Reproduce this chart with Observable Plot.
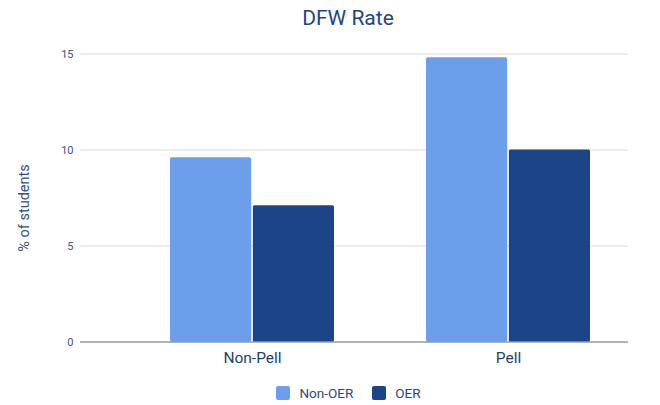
<!DOCTYPE html>
<html>
<head>
<meta charset="utf-8">
<script src="https://cdn.jsdelivr.net/npm/d3@7"></script>
<script src="https://cdn.jsdelivr.net/npm/@observablehq/plot@0.6"></script>
<style>
  html, body { margin: 0; padding: 0; background: #fff; }
  body { width: 660px; height: 405px; overflow: hidden; font-family: Roboto, "Noto Sans", sans-serif; }
  #title { height: 40px; text-align: center; font-size: 21px; color: #1c4587; line-height: 36px; padding-left: 36px; box-sizing: border-box; }
  #chart svg { display: block; }
  #legend { height: 30px; display: flex; justify-content: center; align-items: center; gap: 19px; font-size: 13.5px; color: #2b4a7a; padding-left: 37px; padding-top: 5px; box-sizing: border-box; }
  .item { display: flex; align-items: center; gap: 9px; }
  .sw { width: 14px; height: 14px; border-radius: 2px; display: inline-block; }
</style>
</head>
<body>
<div id="title">DFW Rate</div>
<div id="chart"></div>
<div id="legend"></div>
<script>
const groups = ["Non-Pell", "Pell"];
const series = ["Non-OER", "OER"];
const nonOER = [9.6, 14.8];
const oer = [7.1, 10.0];
const yTicks = [0, 5, 10, 15];
const colors = ["#6d9eeb", "#1c4587"];

const data = groups.flatMap((g, i) => [
  {group: g, series: series[0], value: nonOER[i]},
  {group: g, series: series[1], value: oer[i]}
]);

const W = 660, H = 335, mL = 80, mR = 32, mT = 13.5, mB = 33.5;
const xOpts = {type: "band", domain: groups, paddingInner: 0.358, paddingOuter: 0.247, align: 0.705};
const bw = Plot.scale({x: {...xOpts, range: [mL, W - mR]}}).bandwidth;

const chart = Plot.plot({
  width: W, height: H,
  marginLeft: mL, marginRight: mR, marginTop: mT, marginBottom: mB,
  style: {fontFamily: "Roboto, sans-serif", background: "#fff"},
  x: {...xOpts, label: null},
  y: {domain: [0, 15], label: null},
  color: {domain: series, range: colors},
  marks: [
    Plot.ruleY(yTicks.filter(d => d > 0), {stroke: "#d9d9d9", strokeWidth: 1}),
    Plot.barY(data.filter(d => d.series === series[0]), {x: "group", y: "value", fill: "series", insetRight: bw / 2 + 0.5, rx: 1.5}),
    Plot.barY(data.filter(d => d.series === series[1]), {x: "group", y: "value", fill: "series", insetLeft: bw / 2 + 0.5, rx: 1.5}),
    Plot.ruleY([0], {stroke: "#666", strokeWidth: 1}),
    Plot.axisY(yTicks, {tickSize: 0, tickPadding: 7, fontSize: 11, fill: "#3b5580", label: null}),
    Plot.axisX({tickSize: 0, tickPadding: 10, fontSize: 15.5, fill: "#1f3f70", label: null}),
    Plot.text(["% of students"], {frameAnchor: "left", dx: -56, dy: 10, rotate: -90, fontSize: 14.5, fill: "#2f4f7f", textAnchor: "middle"})
  ]
});
document.getElementById("chart").appendChild(chart);

const legend = document.getElementById("legend");
series.forEach((s, i) => {
  const it = document.createElement("div");
  it.className = "item";
  it.innerHTML = `<span class="sw" style="background:${colors[i]}"></span><span>${s}</span>`;
  legend.appendChild(it);
});
</script>
</body>
</html>
